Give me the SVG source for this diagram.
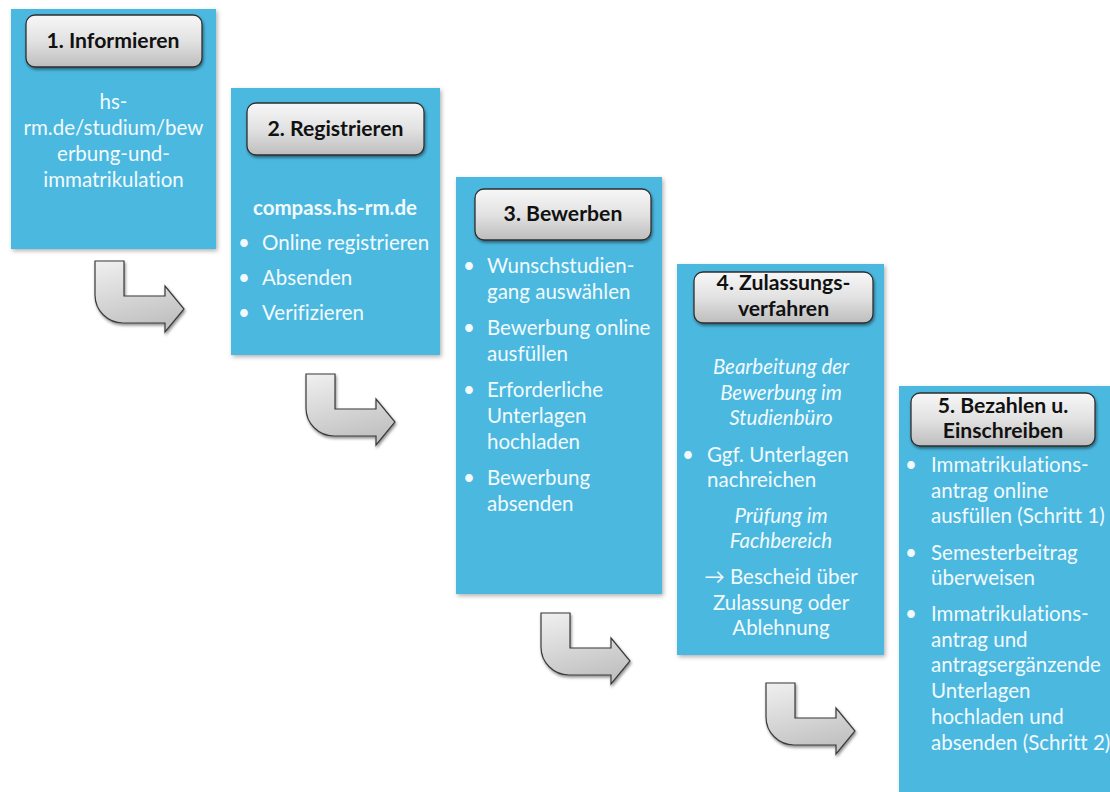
<svg xmlns="http://www.w3.org/2000/svg" width="1110" height="792" viewBox="0 0 1110 792">
<defs>
<linearGradient id="hg" x1="0" y1="0" x2="0" y2="1">
<stop offset="0" stop-color="#f7f7f7"/>
<stop offset="0.5" stop-color="#e2e2e2"/>
<stop offset="1" stop-color="#bdbdbd"/>
</linearGradient>
<linearGradient id="ag" x1="0" y1="0" x2="0.3" y2="1">
<stop offset="0" stop-color="#f0f0f0"/>
<stop offset="1" stop-color="#c2c2c2"/>
</linearGradient>
<filter id="sh" x="-10%" y="-10%" width="130%" height="130%">
<feDropShadow dx="1.5" dy="2" stdDeviation="2" flood-color="#000" flood-opacity="0.3"/>
</filter>
<filter id="hs" x="-10%" y="-20%" width="130%" height="150%">
<feDropShadow dx="1" dy="2" stdDeviation="1.5" flood-color="#000" flood-opacity="0.45"/>
</filter>
<path id="arr" d="M0,0 H29 V35 H70 V25 L89,48 L70,71 V62 H28 A28,28 0 0 1 0,34 Z"/>
</defs>
<style>
.box{fill:#4cb8e0;filter:url(#sh)}
.hdr{fill:url(#hg);stroke:#2e2e2e;stroke-width:1.3;filter:url(#hs)}
text{font-variant-ligatures:none}
.ht{font-family:Lato,"Open Sans","Liberation Sans",sans-serif;font-weight:bold;font-size:21.2px;fill:#111;text-anchor:middle}
.bt{font-family:Lato,"Open Sans","Liberation Sans",sans-serif;font-size:20.5px;fill:#f2fafd}
.c{text-anchor:middle}
.i{font-style:italic}
.b{font-weight:bold}
.arrow{fill:url(#ag);stroke:#3a3a3a;stroke-width:1.2;filter:url(#hs)}
</style>
<rect width="1110" height="792" fill="#ffffff"/>

<g id="connectors">
<use href="#arr" class="arrow" transform="translate(95,261)"/>
<use href="#arr" class="arrow" transform="translate(306,374)"/>
<use href="#arr" class="arrow" transform="translate(541,613)"/>
<use href="#arr" class="arrow" transform="translate(766,683)"/>
</g>

<g id="step1">
<rect class="box" x="11" y="9" width="205" height="240"/>
<rect class="hdr" x="26" y="15" width="176" height="52" rx="9"/>
<text class="ht" x="113" y="48">1. Informieren</text>
<text class="bt c" x="113.5" y="109">hs-</text>
<text class="bt c" x="113.5" y="135">rm.de/studium/bew</text>
<text class="bt c" x="113.5" y="161">erbung-und-</text>
<text class="bt c" x="113.5" y="187">immatrikulation</text>
</g>

<g id="step2">
<rect class="box" x="231" y="88" width="209" height="267"/>
<rect class="hdr" x="247" y="103" width="177" height="52" rx="9"/>
<text class="ht" x="335.5" y="136">2. Registrieren</text>
<text class="bt c b" x="335" y="215">compass.hs-rm.de</text>
<text class="bt c" x="244" y="250">•</text>
<text class="bt" x="262" y="250">Online registrieren</text>
<text class="bt c" x="244" y="285">•</text>
<text class="bt" x="262" y="285">Absenden</text>
<text class="bt c" x="244" y="320">•</text>
<text class="bt" x="262" y="320">Verifizieren</text>
</g>

<g id="step3">
<rect class="box" x="456" y="177" width="206" height="417"/>
<rect class="hdr" x="475" y="189" width="176" height="51" rx="9"/>
<text class="ht" x="563" y="221">3. Bewerben</text>
<text class="bt c" x="469" y="273">•</text>
<text class="bt" x="487" y="273">Wunschstudien-</text>
<text class="bt" x="487" y="299">gang auswählen</text>
<text class="bt c" x="469" y="335">•</text>
<text class="bt" x="487" y="335">Bewerbung online</text>
<text class="bt" x="487" y="361">ausfüllen</text>
<text class="bt c" x="469" y="397">•</text>
<text class="bt" x="487" y="397">Erforderliche</text>
<text class="bt" x="487" y="423">Unterlagen</text>
<text class="bt" x="487" y="449">hochladen</text>
<text class="bt c" x="469" y="485">•</text>
<text class="bt" x="487" y="485">Bewerbung</text>
<text class="bt" x="487" y="511">absenden</text>
</g>

<g id="step4">
<rect class="box" x="677" y="264" width="207" height="391"/>
<rect class="hdr" x="694" y="272" width="179" height="51" rx="9"/>
<text class="ht" x="783.5" y="290">4. Zulassungs-</text>
<text class="ht" x="783.5" y="316">verfahren</text>
<text class="bt c i" x="781" y="374">Bearbeitung der</text>
<text class="bt c i" x="781" y="400">Bewerbung im</text>
<text class="bt c i" x="781" y="425">Studienbüro</text>
<text class="bt c" x="688" y="462">•</text>
<text class="bt" x="707" y="462">Ggf. Unterlagen</text>
<text class="bt" x="707" y="487">nachreichen</text>
<text class="bt c i" x="781" y="523">Prüfung im</text>
<text class="bt c i" x="781" y="548">Fachbereich</text>
<text class="bt c" x="781" y="584">→ Bescheid über</text>
<text class="bt c" x="781" y="610">Zulassung oder</text>
<text class="bt c" x="781" y="635">Ablehnung</text>
</g>

<g id="step5">
<rect class="box" x="899" y="386" width="220" height="420"/>
<rect class="hdr" x="911" y="393" width="184" height="53" rx="9"/>
<text class="ht" x="1003" y="413">5. Bezahlen u.</text>
<text class="ht" x="1003" y="438">Einschreiben</text>
<text class="bt c" x="911" y="472">•</text>
<text class="bt" x="931" y="472">Immatrikulations-</text>
<text class="bt" x="931" y="498">antrag online</text>
<text class="bt" x="931" y="523">ausfüllen (Schritt 1)</text>
<text class="bt c" x="911" y="560">•</text>
<text class="bt" x="931" y="560">Semesterbeitrag</text>
<text class="bt" x="931" y="585">überweisen</text>
<text class="bt c" x="911" y="621">•</text>
<text class="bt" x="931" y="621">Immatrikulations-</text>
<text class="bt" x="931" y="647">antrag und</text>
<text class="bt" x="931" y="672">antragsergänzende</text>
<text class="bt" x="931" y="698">Unterlagen</text>
<text class="bt" x="931" y="724">hochladen und</text>
<text class="bt" x="931" y="750">absenden (Schritt 2)</text>
</g>
</svg>
